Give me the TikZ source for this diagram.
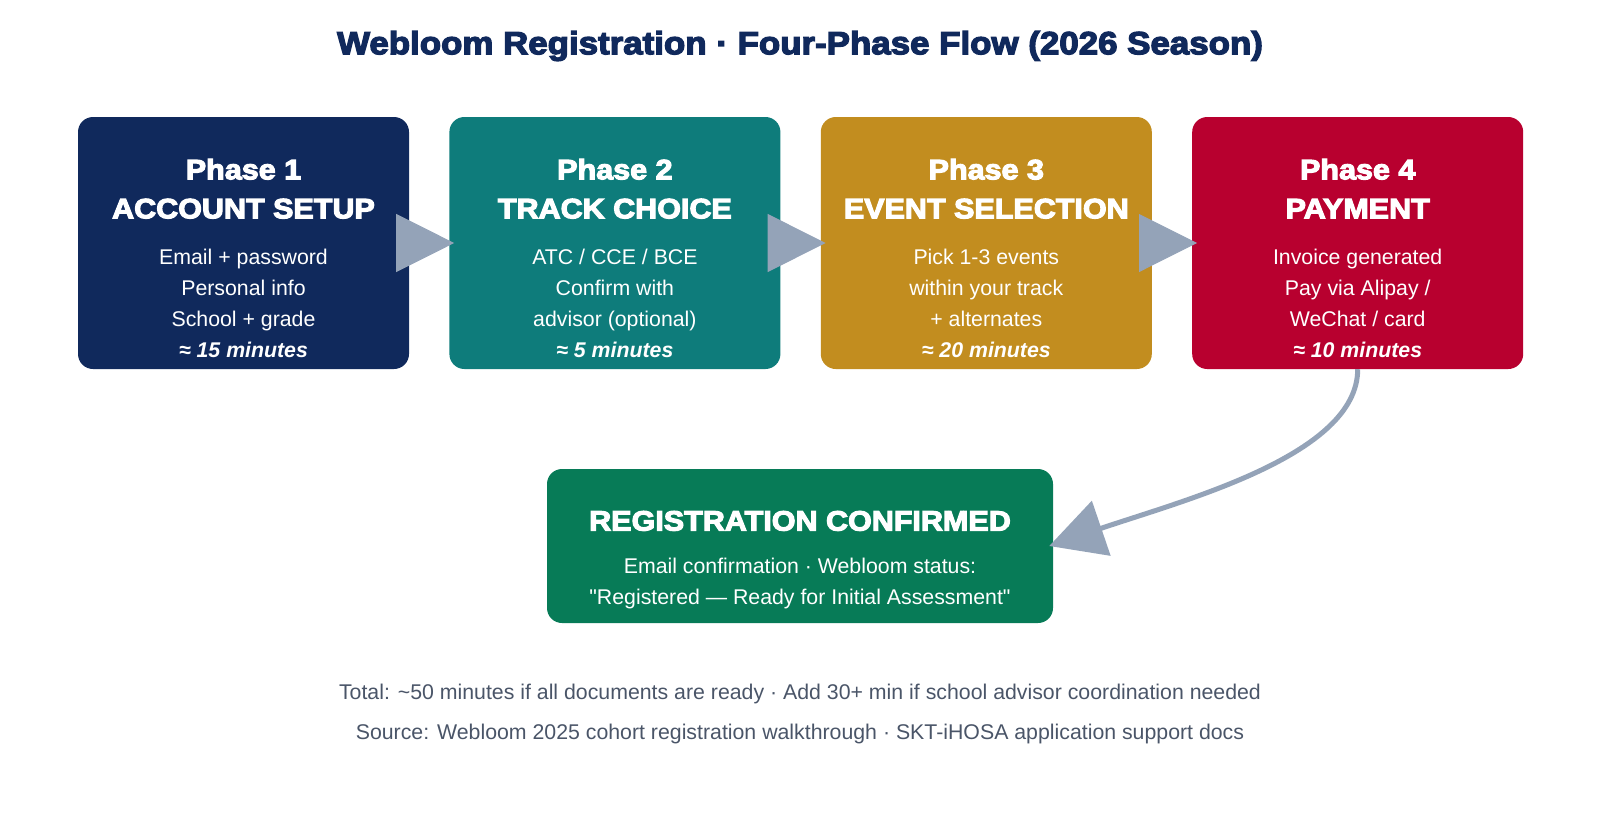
\documentclass[tikz,border=0pt]{standalone}
\usepackage{fontspec}
\setmainfont{Liberation Sans}[Ligatures=TeXOff]
\newfontfamily\heavyfont{Liberation Sans}[BoldFeatures={FakeBold=4, FakeStretch=1.09}]
\usetikzlibrary{arrows.meta,positioning}
\definecolor{RegNavy}{HTML}{10295C}
\definecolor{RegTeal}{HTML}{0E7C7B}
\definecolor{RegGold}{HTML}{C28D1F}
\definecolor{RegRed}{HTML}{B8002F}
\definecolor{RegGreen}{HTML}{077B57}
\definecolor{RegArrow}{HTML}{94A3B8}
\definecolor{RegGrey}{HTML}{4A5568}

\begin{document}
\begin{tikzpicture}[x=1pt, y=-1pt,
  phase/.style={rounded corners=15pt, minimum width=331pt,
                minimum height=252pt, inner sep=0pt},
  head/.style={text=white, align=center, inner sep=0pt,
               font=\heavyfont\bfseries\fontsize{28}{39}\selectfont},
  body/.style={text=white, align=center, inner sep=0pt,
               font=\fontsize{21.3}{31}\selectfont},
  gap/.style={-{Triangle[length=58pt, width=58pt]}, line width=1pt, draw=RegArrow},
  flow/.style={-{Triangle[length=55pt, width=57pt]}, line width=5pt, draw=RegArrow}
]
\useasboundingbox (0,0) rectangle (1600,820);
\node[font=\heavyfont\bfseries\fontsize{32}{38}\selectfont, text=RegNavy]
  (title) at (800,46) {Webloom Registration · Four-Phase Flow (2026 Season)};

% four phases
\node[phase, fill=RegNavy] (p1) at (243.5,243) {};
\node[phase, fill=RegTeal, right=40pt of p1] (p2) {};
\node[phase, fill=RegGold, right=40pt of p2] (p3) {};
\node[phase, fill=RegRed, right=40pt of p3] (p4) {};

\node[head, below=42pt of p1.north] (h1) {Phase 1\\ACCOUNT SETUP};
\node[body, below=132pt of p1.north] (b1)
  {Email + password\\Personal info\\School + grade\\
   \textbf{\textit{≈ 15 minutes}}};
\node[head, below=42pt of p2.north] (h2) {Phase 2\\TRACK CHOICE};
\node[body, below=132pt of p2.north] (b2)
  {ATC / CCE / BCE\\Confirm with\\advisor (optional)\\
   \textbf{\textit{≈ 5 minutes}}};
\node[head, below=42pt of p3.north] (h3) {Phase 3\\EVENT SELECTION};
\node[body, below=132pt of p3.north] (b3)
  {Pick 1-3 events\\within your track\\+ alternates\\
   \textbf{\textit{≈ 20 minutes}}};
\node[head, below=42pt of p4.north] (h4) {Phase 4\\PAYMENT};
\node[body, below=132pt of p4.north] (b4)
  {Invoice generated\\Pay via Alipay /\\WeChat / card\\
   \textbf{\textit{≈ 10 minutes}}};

% result
\node[phase, fill=RegGreen, minimum width=506pt, minimum height=154pt]
  (done) at (800,546) {};
\node[head, below=42pt of done.north] (hd) {REGISTRATION CONFIRMED};
\node[body, below=89pt of done.north] (bd)
  {Email confirmation · Webloom status:\\
   "Registered — Ready for Initial Assessment"};

\draw[gap] ([xshift=-13pt]p1.east) -- ([xshift=5pt]p2.west);
\draw[gap] ([xshift=-13pt]p2.east) -- ([xshift=5pt]p3.west);
\draw[gap] ([xshift=-13pt]p3.east) -- ([xshift=5pt]p4.west);
\draw[flow] (p4.south) .. controls +(0,86) and +(135,-46) .. ([xshift=-4pt]done.east);

% footer
\node[text=RegGrey, font=\fontsize{21.3}{25}\selectfont] (total) at (800,694)
  {Total: \textasciitilde 50 minutes if all documents are ready · Add 30+ min if school advisor coordination needed};
\node[text=RegGrey, font=\fontsize{21.3}{25}\selectfont] (source) at (800,734)
  {Source: Webloom 2025 cohort registration walkthrough · SKT-iHOSA application support docs};
\end{tikzpicture}
\end{document}
